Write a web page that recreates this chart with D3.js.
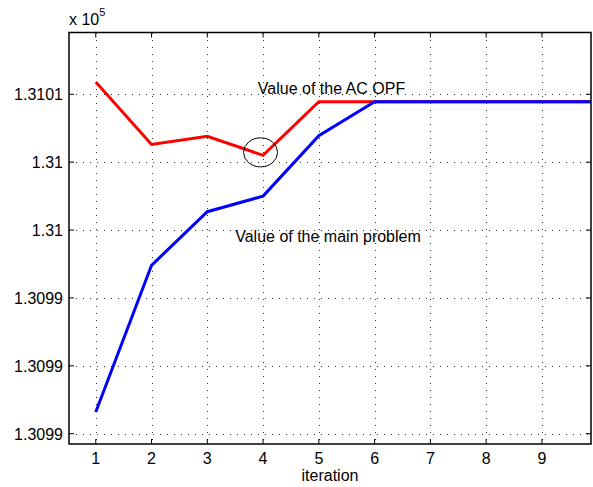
<!DOCTYPE html>
<html>
<head>
<meta charset="utf-8">
<script src="https://cdn.jsdelivr.net/npm/d3@7"></script>
<style>
  body { margin: 0; background: #fff; }
  svg { font-family: "Liberation Sans", Arial, sans-serif; }
</style>
</head>
<body>
<svg id="chart" width="593" height="487"></svg>
<script>
const iterations = [1, 2, 3, 4, 5, 6, 7, 8, 9, 10];
const acOpfValues = [131010.9, 131006.3, 131006.9, 131005.5, 131009.45, 131009.45, 131009.45, 131009.45, 131009.45, 131009.45];
const mainValues = [130986.6, 130997.4, 131001.35, 131002.5, 131006.95, 131009.45, 131009.45, 131009.45, 131009.45, 131009.45];
const xTicks = [1, 2, 3, 4, 5, 6, 7, 8, 9];
const yTicks = [130985, 130990, 130995, 131000, 131005, 131010];
const yTickLabels = ['1.3099', '1.3099', '1.3099', '1.31', '1.31', '1.3101'];

const svg = d3.select('#chart');
const plotLeft = 69, plotRight = 591, plotTop = 32.5, plotBottom = 444;

const x = d3.scaleLinear().domain([0.52, 9.88]).range([plotLeft, plotRight]);
const y = d3.scaleLinear().domain([130984.24, 131014.55]).range([plotBottom, plotTop]);

svg.append('defs').append('clipPath').attr('id', 'clip')
  .append('rect').attr('x', plotLeft).attr('y', plotTop)
  .attr('width', plotRight - plotLeft).attr('height', plotBottom - plotTop);

// grid
const grid = svg.append('g').attr('stroke', '#333').attr('stroke-width', 1)
  .attr('stroke-dasharray', '1,6').attr('shape-rendering', 'crispEdges');
xTicks.forEach(t => {
  grid.append('line').attr('x1', Math.round(x(t)) + 0.5).attr('x2', Math.round(x(t)) + 0.5)
    .attr('y1', plotTop).attr('y2', plotBottom);
});
yTicks.forEach(t => {
  grid.append('line').attr('y1', Math.round(y(t)) + 0.5).attr('y2', Math.round(y(t)) + 0.5)
    .attr('x1', plotLeft).attr('x2', plotRight);
});

// lines
const line = d3.line().x((d, i) => x(iterations[i])).y(d => y(d));
const plot = svg.append('g').attr('clip-path', 'url(#clip)');
plot.append('path').datum(acOpfValues).attr('d', line)
  .attr('fill', 'none').attr('stroke', '#ff0000').attr('stroke-width', 3);
plot.append('path').datum(mainValues).attr('d', line)
  .attr('fill', 'none').attr('stroke', '#0000ff').attr('stroke-width', 3);

// circle annotation
svg.append('ellipse').attr('cx', x(4) - 2.5).attr('cy', y(acOpfValues[3]) - 3)
  .attr('rx', 17).attr('ry', 14.5)
  .attr('fill', 'none').attr('stroke', '#000').attr('stroke-width', 1);

// box
svg.append('rect').attr('x', plotLeft).attr('y', plotTop)
  .attr('width', plotRight - plotLeft).attr('height', plotBottom - plotTop)
  .attr('fill', 'none').attr('stroke', '#000').attr('stroke-width', 1.5);

// ticks
const ticks = svg.append('g').attr('stroke', '#000').attr('stroke-width', 1);
xTicks.forEach(t => {
  ticks.append('line').attr('x1', x(t)).attr('x2', x(t)).attr('y1', plotBottom).attr('y2', plotBottom - 5);
  ticks.append('line').attr('x1', x(t)).attr('x2', x(t)).attr('y1', plotTop).attr('y2', plotTop + 5);
});
yTicks.forEach(t => {
  ticks.append('line').attr('y1', y(t)).attr('y2', y(t)).attr('x1', plotLeft).attr('x2', plotLeft + 5);
  ticks.append('line').attr('y1', y(t)).attr('y2', y(t)).attr('x1', plotRight).attr('x2', plotRight - 5);
});

// tick labels
svg.append('g').selectAll('text').data(xTicks).join('text')
  .attr('x', d => x(d)).attr('y', 464).attr('text-anchor', 'middle')
  .attr('font-size', 16).text(d => d);
svg.append('g').selectAll('text').data(yTicks).join('text')
  .attr('x', 63).attr('y', d => y(d) + 6).attr('text-anchor', 'end')
  .attr('font-size', 16).text((d, i) => yTickLabels[i]);

// multiplier
const mult = svg.append('text').attr('x', 69).attr('y', 25).attr('font-size', 16);
mult.append('tspan').text('x 10');
mult.append('tspan').attr('font-size', 11).attr('dy', -9).text('5');

// labels
svg.append('text').attr('x', 330).attr('y', 481).attr('text-anchor', 'middle')
  .attr('font-size', 16).text('iteration');
svg.append('text').attr('x', 331.5).attr('y', 94).attr('text-anchor', 'middle')
  .attr('font-size', 16).text('Value of the AC OPF');
svg.append('text').attr('x', 328).attr('y', 242).attr('text-anchor', 'middle')
  .attr('font-size', 16).text('Value of the main problem');
</script>
</body>
</html>
